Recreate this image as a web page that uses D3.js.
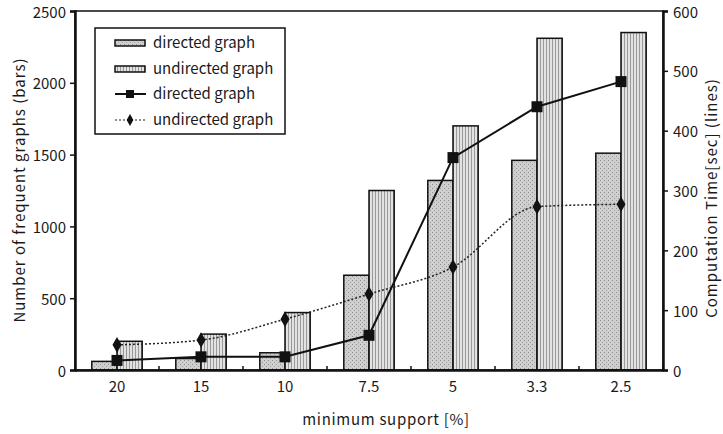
<!DOCTYPE html>
<html>
<head>
<meta charset="utf-8">
<script src="https://cdn.jsdelivr.net/npm/d3@7"></script>
<style>
  body { margin: 0; background: #fff; }
  svg text { font-family: "Noto Sans CJK JP", "DejaVu Sans", sans-serif; fill: #1a1a1a; }
</style>
</head>
<body>
<svg id="chart"></svg>
<script>
// data
let categories = ['20', '15', '10', '7.5', '5', '3.3', '2.5']
let barsDirected = [60, 80, 120, 660, 1320, 1460, 1510]
let barsUndirected = [200, 250, 400, 1250, 1700, 2310, 2350]
let timeDirected = [16, 22, 22, 58, 355, 440, 482]
let timeUndirected = [42, 50, 85, 127, 172, 273, 277]
let leftTicks = [0, 500, 1000, 1500, 2000, 2500]
let rightTicks = [0, 100, 200, 300, 400, 500, 600]

let width = 723
let height = 434
let plotLeft = 75
let plotRight = 663
let plotTop = 11
let plotBottom = 370

let svg = d3.select('#chart').attr('width', width).attr('height', height)

// hatch patterns for the bars
let defs = svg.append('defs')
let pDir = defs.append('pattern').attr('id', 'pDir').attr('patternUnits', 'userSpaceOnUse')
               .attr('width', 4).attr('height', 4)
pDir.append('rect').attr('width', 4).attr('height', 4).attr('fill', '#cfcfcf')
pDir.append('rect').attr('x', 0).attr('y', 0).attr('width', 1).attr('height', 1).attr('fill', '#8f8f8f')
pDir.append('rect').attr('x', 2).attr('y', 2).attr('width', 1).attr('height', 1).attr('fill', '#a0a0a0')

let pUnd = defs.append('pattern').attr('id', 'pUnd').attr('patternUnits', 'userSpaceOnUse')
               .attr('width', 3).attr('height', 3)
pUnd.append('rect').attr('width', 3).attr('height', 3).attr('fill', '#e2e2e2')
pUnd.append('rect').attr('x', 0).attr('width', 1).attr('height', 3).attr('fill', '#999')

let xScale = d3.scaleBand().domain(categories).range([plotLeft, plotRight]).padding(0)
let yLeft = d3.scaleLinear().domain([0, 2500]).range([plotBottom, plotTop])
let yRight = d3.scaleLinear().domain([0, 600]).range([plotBottom, plotTop])
let barW = xScale.bandwidth() * 0.3

// bars
let g = svg.append('g')
g.selectAll('.bd').data(barsDirected).enter().append('rect')
 .attr('x', (d, i) => xScale(categories[i]) + xScale.bandwidth() / 2 - barW)
 .attr('y', d => yLeft(d))
 .attr('width', barW)
 .attr('height', d => plotBottom - yLeft(d))
 .attr('fill', 'url(#pDir)')
 .attr('stroke', '#111').attr('stroke-width', 1.5)

g.selectAll('.bu').data(barsUndirected).enter().append('rect')
 .attr('x', (d, i) => xScale(categories[i]) + xScale.bandwidth() / 2)
 .attr('y', d => yLeft(d))
 .attr('width', barW)
 .attr('height', d => plotBottom - yLeft(d))
 .attr('fill', 'url(#pUnd)')
 .attr('stroke', '#111').attr('stroke-width', 1.5)

// lines
let cx = i => xScale(categories[i]) + xScale.bandwidth() / 2
let lineDir = d3.line().x((d, i) => cx(i)).y(d => yRight(d))
let lineUnd = d3.line().x((d, i) => cx(i)).y(d => yRight(d)).curve(d3.curveMonotoneX)

svg.append('path').attr('d', lineUnd(timeUndirected))
   .attr('fill', 'none').attr('stroke', '#222').attr('stroke-width', 1.5)
   .attr('stroke-dasharray', '2,2')
svg.append('path').attr('d', lineDir(timeDirected))
   .attr('fill', 'none').attr('stroke', '#111').attr('stroke-width', 2)

let diamond = d3.symbol().type(d3.symbolDiamond).size(70)
svg.selectAll('.du').data(timeUndirected).enter().append('path')
   .attr('d', diamond)
   .attr('transform', (d, i) => 'translate(' + cx(i) + ',' + yRight(d) + ')')
   .attr('fill', '#111')
svg.selectAll('.sd').data(timeDirected).enter().append('rect')
   .attr('x', (d, i) => cx(i) - 5.5)
   .attr('y', d => yRight(d) - 5.5)
   .attr('width', 11).attr('height', 11)
   .attr('fill', '#111')

// frame
svg.append('rect').attr('x', plotLeft).attr('y', plotTop)
   .attr('width', plotRight - plotLeft).attr('height', plotBottom - plotTop)
   .attr('fill', 'none').attr('stroke', '#111').attr('stroke-width', 1.5)

// axes
let xAxis = d3.axisBottom(xScale).tickSize(0).tickPadding(11)
let gx = svg.append('g').attr('transform', 'translate(0,' + plotBottom + ')').call(xAxis)
gx.select('.domain').attr('stroke', '#111').attr('stroke-width', 2.5)
gx.selectAll('text').attr('font-size', 15)

// small inward ticks on band boundaries
let boundaries = categories.map(c => xScale(c)).concat([plotRight])
svg.selectAll('.bt').data(boundaries).enter().append('line')
   .attr('x1', d => d).attr('x2', d => d)
   .attr('y1', plotBottom).attr('y2', plotBottom - 4)
   .attr('stroke', '#111').attr('stroke-width', 1.5)

let yAxisL = d3.axisLeft(yLeft).tickValues(leftTicks).tickFormat(d3.format('d')).tickSize(5).tickPadding(4)
let gl = svg.append('g').attr('transform', 'translate(' + plotLeft + ',0)').call(yAxisL)
gl.select('.domain').attr('stroke', '#111').attr('stroke-width', 2.5)
gl.selectAll('line').attr('stroke', '#111').attr('stroke-width', 1.5)
gl.selectAll('text').attr('font-size', 15).attr('dy', '0.4em')

let yAxisR = d3.axisRight(yRight).tickValues(rightTicks).tickSize(5).tickPadding(5)
let gr = svg.append('g').attr('transform', 'translate(' + plotRight + ',0)').call(yAxisR)
gr.select('.domain').attr('stroke', '#111').attr('stroke-width', 2.5)
gr.selectAll('line').attr('stroke', '#111').attr('stroke-width', 1.5)
gr.selectAll('text').attr('font-size', 15).attr('dy', '0.4em')

// titles
svg.append('text').attr('x', 386).attr('y', 425).attr('text-anchor', 'middle')
   .attr('font-size', 15).attr('letter-spacing', 0.7).text('minimum support [%]')
svg.append('text').attr('transform', 'translate(25,190) rotate(-90)')
   .attr('text-anchor', 'middle').attr('font-size', 15).attr('letter-spacing', 1)
   .text('Number of frequent graphs (bars)')
svg.append('text').attr('transform', 'translate(717,198) rotate(-90)')
   .attr('text-anchor', 'middle').attr('font-size', 15).attr('letter-spacing', 1)
   .text('Computation Time[sec] (lines)')

// legend
let lg = svg.append('g')
lg.append('rect').attr('x', 95).attr('y', 28).attr('width', 190).attr('height', 106)
  .attr('fill', '#fff').attr('stroke', '#111').attr('stroke-width', 1.5)
let legendItems = ['directed graph', 'undirected graph', 'directed graph', 'undirected graph']
let rowY = [43, 69, 94, 120]
legendItems.forEach((t, i) => {
  let y = rowY[i]
  if (i === 0 || i === 1) {
    lg.append('rect').attr('x', 115).attr('y', y - 3).attr('width', 30).attr('height', 6)
      .attr('fill', i === 0 ? 'url(#pDir)' : 'url(#pUnd)')
      .attr('stroke', '#111').attr('stroke-width', 1.5)
  } else if (i === 2) {
    lg.append('line').attr('x1', 115).attr('x2', 146).attr('y1', y).attr('y2', y)
      .attr('stroke', '#111').attr('stroke-width', 2)
    lg.append('rect').attr('x', 126).attr('y', y - 4).attr('width', 8).attr('height', 8).attr('fill', '#111')
  } else {
    lg.append('line').attr('x1', 115).attr('x2', 146).attr('y1', y).attr('y2', y)
      .attr('stroke', '#222').attr('stroke-width', 1.2).attr('stroke-dasharray', '2,2')
    lg.append('path').attr('d', d3.symbol().type(d3.symbolDiamond).size(40))
      .attr('transform', 'translate(130,' + y + ')').attr('fill', '#111')
  }
  lg.append('text').attr('x', 153).attr('y', y + 5).attr('font-size', 15).text(t)
})
</script>
</body>
</html>
